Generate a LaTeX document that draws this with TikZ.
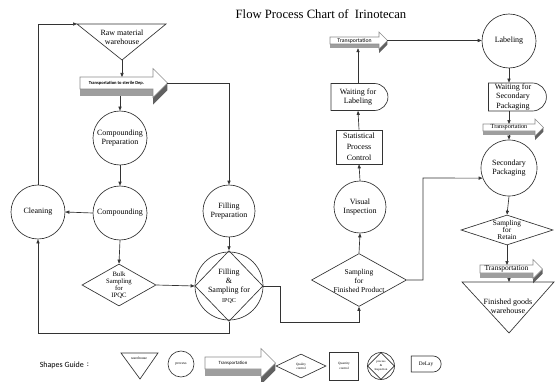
\documentclass[tikz,border=0pt]{standalone}
\usepackage{fontspec}
\setmainfont{Liberation Serif}
\newfontfamily\guidefont{Carlito}
\usetikzlibrary{shapes.geometric,shapes.misc,arrows.meta}

\tikzset{every picture/.style={line width=0.5pt}}
\tikzset{
  proc/.style={circle, draw=black!80, inner sep=0pt, minimum size=#1, align=center, font=\fontsize{6}{7}\selectfont},
  qc/.style={diamond, draw=black!80, inner sep=0pt},
  delay/.style={rounded rectangle, rounded rectangle west arc=none, draw=black!80, inner sep=0pt, align=center, font=\fontsize{6}{7}\selectfont},
  qbox/.style={rectangle, draw=black!80, inner sep=0pt, align=center, font=\fontsize{6}{8.2}\selectfont},
  lbl/.style={inner sep=0pt, align=center, font=\fontsize{6}{7}\selectfont},
  arr/.style={draw=black!80, -{Triangle[length=3pt,width=2.4pt]}},
  tface/.style={fill=white, draw=black!45, line width=0.4pt},
  tbottom/.style={fill=black!38},
  tside/.style={fill=black!62},
}

% 3D transport arrow: name, x, y, body length, body height, font, text
\newcommand{\transp}[7]{%
  \pgfmathsetmacro\tXa{#2+#4}%
  \pgfmathsetmacro\tXb{#2+#4+1.2*#5}%
  \pgfmathsetmacro\tYb{#3+#5}%
  \pgfmathsetmacro\tYm{#3+0.5*#5}%
  \pgfmathsetmacro\tHa{#3-0.7*#5}%
  \pgfmathsetmacro\tHb{#3+1.7*#5}%
  \pgfmathsetmacro\tD{0.6*#5}%
  \fill[tbottom] (#2,\tYb) -- (\tXa,\tYb) -- (\tXa,\tYb+\tD) -- (#2,\tYb+\tD) -- cycle;
  \fill[tside] (\tXa,\tHb) -- (\tXb,\tYm) -- (\tXb,\tYm+\tD) -- (\tXa,\tHb+\tD) -- cycle;
  \draw[tface] (#2,#3) -- (\tXa,#3) -- (\tXa,\tHa) -- (\tXb,\tYm) -- (\tXa,\tHb) -- (\tXa,\tYb) -- (#2,\tYb) -- cycle;
  \node[inner sep=0pt, font=#6] (#1) at ({#2+0.5*#4},\tYm) {#7};
  \coordinate (#1-n) at ({#2+0.5*#4},#3);
  \coordinate (#1-s) at ({#2+0.5*#4},{\tYb+\tD});
  \coordinate (#1-e) at (\tXb,\tYm);
}

\begin{document}
\begin{tikzpicture}[x=0.75pt,y=0.75pt,yscale=-1,xscale=1]
\path[use as bounding box] (0,0) rectangle (555,381);

% Title
\node[font=\fontsize{9.5}{11}\selectfont] (title) at (321,14) {Flow Process Chart of~ Irinotecan};

%Shape: Triangle [raw material warehouse]
\draw[black!80] (77,24) -- (166,24) -- (122,60) -- cycle;
\coordinate (rawwhL) at (77,24);
\coordinate (rawwhB) at (122,60);
\node[lbl] (rawwh) at (122,37) {Raw material\\warehouse};

%Shape: Transport arrows
\transp{tsterile}{80}{77}{73}{12}{\guidefont\bfseries\fontsize{3.4}{4}\selectfont}{Transportation to sterile Dep.}
\transp{ttrans1}{330}{37}{49}{7}{\guidefont\fontsize{4.3}{5}\selectfont}{Transportation}
\transp{ttrans2}{483}{124}{52}{7}{\fontsize{4.7}{5}\selectfont}{Transportation}
\transp{ttrans3}{480}{265}{53}{8}{\fontsize{5.6}{6}\selectfont}{Transportation}

%Shape: Circles
\node[proc=40.5pt] (cprep) at (120,138) {Compounding\\Preparation};
\node[proc=40.5pt] (comp) at (120,213) {Compounding};
\node[proc=40.5pt] (clean) at (38,212) {Cleaning};
\node[proc=39pt] (fprep) at (229,211) {Filling\\Preparation};
\node[proc=39pt] (vis) at (360,207) {Visual\\Inspection};
\node[proc=40.5pt] (lab) at (509,41) {Labeling};
\node[proc=42pt] (sp) at (509,168) {Secondary\\Packaging};

%Shape: Circle with diamond
\node[proc=51pt] (fs) at (229,286) {};
\node[qc, minimum width=51pt, minimum height=53pt] (fsd) at (229,286) {};
\node[lbl] (fs-t) at (229,286) {Filling\\\&\\Sampling for\\{\fontsize{4.5}{5}\selectfont IPQC}};

%Shape: Diamonds
\node[qc, minimum width=55.5pt, minimum height=31.5pt] (bulk) at (119,285) {};
\node[lbl, font=\fontsize{5}{5.3}\selectfont] (bulk-t) at (bulk) {Bulk\\Sampling\\for\\IPQC};
\node[qc, minimum width=71.25pt, minimum height=39.75pt] (sfp) at (359,280) {};
\node[lbl, font=\fontsize{5.6}{6.8}\selectfont] (sfp-t) at (359,281) {Sampling\\for\\Finished Product};
\node[qc, minimum width=69pt, minimum height=22.5pt] (sfr) at (507,230) {};
\node[lbl, font=\fontsize{5.5}{5.6}\selectfont] (sfr-t) at (507,230) {Sampling\\for\\Retain};

%Shape: Rectangle
\node[qbox, minimum width=34.5pt, minimum height=25.5pt] (spc) at (359,147) {Statistical\\Process\\Control};

%Shape: Delays
\node[delay, minimum width=42.75pt, minimum height=20.25pt] (wl) at (358,97) {Waiting for\\Labeling};
\node[delay, minimum width=43.5pt, minimum height=21pt] (wsp) at (513,97) {Waiting for\\Secondary\\Packaging};

%Shape: Triangle [finished goods warehouse]
\draw[black!80] (462,282) -- (554,282) -- (509,333) -- cycle;
\coordinate (fgwT) at (509,282);
\node[lbl] (fgw) at (508,306) {Finished goods\\warehouse};

% Connectors
\coordinate (loopbot) at (0,333);
\coordinate (jog1) at (280,322);
\coordinate (jog2) at (423,178);
\draw[arr] (clean.north) |- (rawwhL);
\draw[arr] (rawwhB) -- (rawwhB |- tsterile-n);
\draw[arr] (tsterile-s -| cprep.north) -- (cprep.north);
\draw[arr] (tsterile-e) -| (fprep.north);
\draw[arr] (cprep.south) -- (comp.north);
\draw[arr] (comp.west) -- (clean.east);
\draw[arr] (comp.south) -- (bulk.north);
\draw[arr] (bulk.east) -- (fsd.west);
\draw[arr] (fprep.south) -- (fsd.north);
\draw[arr] (fsd.south) -- (fsd.south |- loopbot) -| (clean.south);
\draw[arr] (fsd.east) -| (jog1) -| (sfp.south);
\draw[arr] (sfp.north) -- (vis.south);
\draw[arr] (vis.north) -- (spc.south);
\draw[arr] (spc.north) -- (wl.south);
\draw[arr] (wl.north) -- (wl.north |- ttrans1-s);
\draw[arr] (ttrans1-e) -- (ttrans1-e -| lab.west);
\draw[arr] (lab.south) -- (lab.south |- wsp.north);
\draw[arr] (lab.south |- wsp.south) -- (lab.south |- ttrans2-n);
\draw[arr] (ttrans2-s -| sp.north) -- (sp.north);
\draw[arr] (sfp.east) -| (jog2) -- (sp.201);
\draw[arr] (sp.south) -- (sfr.north);
\draw[arr] (sfr.south) -- (sfr.south |- ttrans3-n);
\draw[arr] (ttrans3-s -| fgwT) -- (fgwT);

% Shapes guide
\node[anchor=west, font=\guidefont\fontsize{6}{7}\selectfont] (guide) at (35,365) {Shapes Guide};
\node[font=\guidefont\fontsize{6}{7}\selectfont] (guidecolon) at (88,365) {:};
\draw[black!80] (121,353) -- (158,353) -- (140,379) -- cycle;
\node[lbl, font=\fontsize{2.8}{3}\selectfont] (lgwh) at (139,358) {warehouse};
\node[proc=19.5pt, font=\fontsize{2.8}{3}\selectfont] (lgproc) at (181,364) {process};
\transp{lgtrans}{205}{357}{56}{12}{\guidefont\fontsize{3.6}{4}\selectfont}{Transportation}
\node[qc, minimum width=37.5pt, minimum height=18pt] (lgqual) at (301,366) {};
\node[lbl, font=\fontsize{2.5}{3}\selectfont] (lgqual-t) at (301,366) {Quality\\control};
\node[qbox, minimum width=21.75pt, minimum height=21pt, font=\fontsize{2.5}{3.5}\selectfont] (lgquan) at (344,366) {Quantity\\control};
\node[proc=20.25pt] (lgpi) at (381,366) {};
\node[qc, minimum width=20.25pt, minimum height=20.25pt] (lgpid) at (381,366) {};
\node[lbl, font=\fontsize{2.3}{2.8}\selectfont] (lgpi-t) at (381,366) {process\\\&\\Inspection};
\node[delay, minimum width=22.5pt, minimum height=12pt, font=\fontsize{4}{5}\selectfont] (lgdelay) at (426,364) {DeLay};

\end{tikzpicture}
\end{document}
